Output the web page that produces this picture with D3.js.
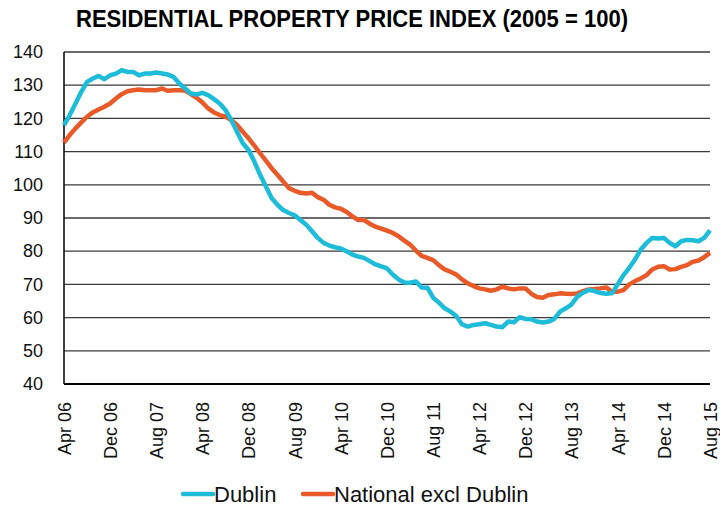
<!DOCTYPE html>
<html>
<head>
<meta charset="utf-8">
<script src="https://cdn.jsdelivr.net/npm/d3@7"></script>
<style>
  body { margin: 0; background: #fff; }
  svg { display: block; font-family: "Liberation Sans", Arial, sans-serif; }
</style>
</head>
<body>
<svg></svg>
<script>
var width = 720;
var height = 513;
var margins = { left: 64, top: 52, right: 10, bottom: 129 };

// month labels shown on the axis (every 8th month from Apr 06)
var tickLabels = ["Apr 06","Dec 06","Aug 07","Apr 08","Dec 08","Aug 09","Apr 10",
                  "Dec 10","Aug 11","Apr 12","Dec 12","Aug 13","Apr 14","Dec 14","Aug 15"];
var yTicks = [40,50,60,70,80,90,100,110,120,130,140];

// monthly index values, Apr 06 .. Aug 15
var dublin = [
  118,121,124.5,128,131,132,132.8,131.8,133,133.5,134.5,134,134,133,133.5,133.5,
  133.8,133.5,133.2,132.5,130.5,129,127.5,127.2,127.7,127,125.8,124.5,122.5,119.5,
  116,112.5,110.5,107,103,99.5,96,94,92.4,91.5,90.8,89.4,88,86,84,82.5,
  81.7,81.2,80.8,80,79,78.4,78,77,76,75.4,74.8,73,71.5,70.6,70.5,70.9,
  69.1,69,66,64.5,62.8,61.8,60.5,58,57.3,57.8,58,58.3,57.8,57.3,57.1,58.8,
  58.6,60.1,59.6,59.5,58.8,58.5,58.8,59.6,61.8,62.8,64,66.3,67.5,68.3,68,67.4,
  67.2,67.3,70,72.8,75,77.5,80.5,82.5,84,83.8,84,82.5,81.5,83,83.4,83.3,
  83,84,86.3
];
var national = [
  112.7,115,117,118.8,120.5,121.8,122.7,123.5,124.5,126,127.3,128.2,128.5,128.7,128.5,128.5,
  128.5,129,128.3,128.5,128.5,128.4,127.3,126.2,124.8,123,121.8,121,120.5,119.5,
  118,116,114,111.8,109.5,107.3,105,103,101,99,98.2,97.6,97.4,97.6,96.3,95.5,
  94,93.2,92.8,91.8,90.5,89.4,89.4,88.3,87.4,86.8,86.2,85.5,84.5,83.2,82,80.2,
  78.6,78,77.3,75.8,74.5,73.8,73,71.5,70.3,69.5,68.8,68.5,68.1,68.5,69.3,68.8,
  68.5,68.8,68.8,67.2,66.2,66,66.8,67,67.3,67.2,67.1,67.3,68,68.5,68.6,68.8,
  69.1,67.8,67.8,68.3,70,71,71.8,72.8,74.5,75.3,75.5,74.5,74.6,75.3,75.8,76.8,
  77.2,78.2,79.5
];

var seriesNames = ["Dublin", "National excl Dublin"];
var seriesColors = ["#1dbcd8", "#e95a28"];

var svg = d3.select("svg")
            .attr("width", width)
            .attr("height", height);

var xscale = d3.scaleLinear()
               .domain([0, dublin.length - 1])
               .range([margins.left, width - margins.right]);

var yscale = d3.scaleLinear()
               .domain([40, 140])
               .range([height - margins.bottom, margins.top]);

// title (condensed bold look)
svg.append("text")
    .attr("x", 76)
    .attr("y", 27)
    .attr("textLength", 552)
    .attr("lengthAdjust", "spacingAndGlyphs")
    .style("font-weight", "bold")
    .style("font-size", "23px")
    .text("RESIDENTIAL PROPERTY PRICE INDEX (2005 = 100)");

// gridlines
svg.append("g")
    .selectAll("line")
    .data(yTicks.filter(function(d){ return d > 40; }))
    .enter().append("line")
    .attr("x1", margins.left)
    .attr("x2", width - margins.right)
    .attr("y1", function(d){ return yscale(d); })
    .attr("y2", function(d){ return yscale(d); })
    .attr("stroke", "#3a3a3a")
    .attr("stroke-width", 1.3);

// y axis labels
var yaxis = d3.axisLeft(yscale)
              .tickValues(yTicks)
              .tickSize(0)
              .tickPadding(21);

var gy = svg.append("g")
    .attr("transform", "translate(" + margins.left + ",0)")
    .call(yaxis);
gy.select(".domain").remove();
gy.selectAll("text")
    .style("font-size", "18px")
    .attr("fill", "#111");

// x axis labels
var xaxis = d3.axisBottom(xscale)
              .tickValues(d3.range(0, dublin.length, 8))
              .tickFormat(function(d, i){ return tickLabels[i]; })
              .tickSize(0);

var gx = svg.append("g")
    .attr("transform", "translate(0," + (height - margins.bottom) + ")")
    .call(xaxis);
gx.select(".domain").remove();
gx.selectAll("text")
    .style("font-size", "18px")
    .attr("fill", "#111")
    .attr("text-anchor", "end")
    .attr("dy", "0.35em")
    .attr("y", 0)
    .attr("transform", "translate(0,18) rotate(-90)");

// axis lines
svg.append("line")
    .attr("x1", margins.left).attr("x2", margins.left)
    .attr("y1", yscale(140)).attr("y2", yscale(40))
    .attr("stroke", "#000").attr("stroke-width", 1.5);
svg.append("line")
    .attr("x1", margins.left).attr("x2", width - margins.right)
    .attr("y1", yscale(40)).attr("y2", yscale(40))
    .attr("stroke", "#000").attr("stroke-width", 2);

var line = d3.line()
    .x(function(d, i){ return xscale(i); })
    .y(function(d){ return yscale(d); });

svg.append("path")
    .datum(national)
    .attr("d", line)
    .attr("fill", "none")
    .attr("stroke", seriesColors[1])
    .attr("stroke-width", 4.5)
    .attr("stroke-linejoin", "round");

svg.append("path")
    .datum(dublin)
    .attr("d", line)
    .attr("fill", "none")
    .attr("stroke", seriesColors[0])
    .attr("stroke-width", 4.5)
    .attr("stroke-linejoin", "round");

// legend
var legendX = [183, 303];
var legend = svg.append("g")
    .selectAll("g")
    .data(seriesNames)
    .enter().append("g")
    .attr("transform", function(d, i){ return "translate(" + legendX[i] + ",494)"; });

legend.append("line")
    .attr("x1", 0).attr("x2", 30)
    .attr("stroke", function(d, i){ return seriesColors[i]; })
    .attr("stroke-width", 4.5)
    .attr("stroke-linecap", "round");

legend.append("text")
    .attr("x", 31)
    .attr("dy", "0.35em")
    .style("font-size", "22px")
    .attr("fill", "#111")
    .text(function(d){ return d; });
</script>
</body>
</html>
